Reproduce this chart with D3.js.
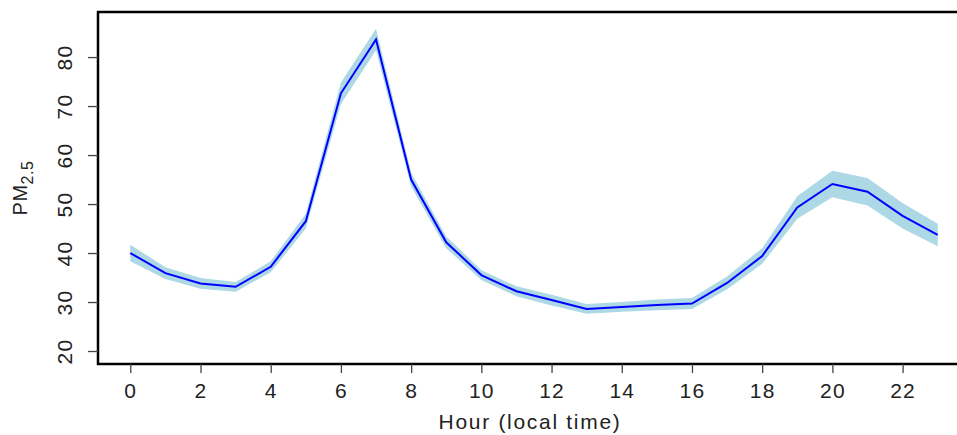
<!DOCTYPE html>
<html>
<head>
<meta charset="utf-8">
<script src="https://cdn.jsdelivr.net/npm/d3@7"></script>
<style>
  body { margin: 0; background: #fff; }
  text { font-family: 'Liberation Sans', Arial, sans-serif; fill: #222; }
</style>
</head>
<body>
<svg id="chart" width="957" height="435"></svg>
<script>
var hours = d3.range(0, 24),
    pm25 = [40.0, 35.9, 33.8, 33.1, 37.2, 46.5, 72.6, 83.6, 55.0, 42.2, 35.5, 32.2,
            30.4, 28.6, 29.0, 29.4, 29.7, 33.9, 39.4, 49.3, 54.1, 52.5, 47.6, 43.7],
    lower = [38.3, 34.7, 32.7, 32.1, 36.1, 45.0, 70.4, 81.4, 53.6, 41.0, 34.5, 31.2,
             29.3, 27.6, 28.0, 28.3, 28.6, 32.6, 37.8, 47.0, 51.4, 49.7, 45.0, 41.4],
    upper = [41.7, 37.1, 34.9, 34.1, 38.3, 48.0, 74.8, 85.8, 56.4, 43.4, 36.5, 33.2,
             31.5, 29.6, 30.0, 30.5, 30.8, 35.2, 41.0, 51.6, 56.8, 55.3, 50.2, 46.0],
    xTicks = [0, 2, 4, 6, 8, 10, 12, 14, 16, 18, 20, 22],
    yTicks = [20, 30, 40, 50, 60, 70, 80];

var svg = d3.select('#chart'),
    plotL = 98, plotR = 970, plotT = 12, plotB = 364;

// R style: axis range padded 4% on each side
var x = d3.scaleLinear().domain([-0.92, 23.92]).range([plotL, plotR]);
var y = d3.scaleLinear().domain([17.35, 89.2]).range([plotB, plotT]);

var data = hours.map(function(h, i) {
  return { h: h, v: pm25[i], lo: lower[i], hi: upper[i] };
});

// confidence band
svg.append('path')
   .datum(data)
   .attr('fill', '#add8e6')
   .attr('d', d3.area()
     .x(function(d) { return x(d.h); })
     .y0(function(d) { return y(d.lo); })
     .y1(function(d) { return y(d.hi); }));

// mean line
svg.append('path')
   .datum(data)
   .attr('fill', 'none')
   .attr('stroke', '#0000ff')
   .attr('stroke-width', 2)
   .attr('d', d3.line()
     .x(function(d) { return x(d.h); })
     .y(function(d) { return y(d.v); }));

// frame
svg.append('rect')
   .attr('x', plotL).attr('y', plotT)
   .attr('width', plotR - plotL).attr('height', plotB - plotT)
   .attr('fill', 'none')
   .attr('stroke', '#000')
   .attr('stroke-width', 2.5);

// x axis
var xAxis = svg.append('g')
   .attr('transform', 'translate(0,' + plotB + ')')
   .call(d3.axisBottom(x).tickValues(xTicks).tickSize(9).tickPadding(10).tickFormat(d3.format('d')));
xAxis.select('.domain').remove();
xAxis.selectAll('line').attr('stroke', '#444').attr('stroke-width', 1.3);
xAxis.selectAll('text')
     .attr('font-size', 21)
     .attr('letter-spacing', '1.2px')
     .attr('fill', '#222');

// y axis
var yAxis = svg.append('g')
   .attr('transform', 'translate(' + plotL + ',0)')
   .call(d3.axisLeft(y).tickValues(yTicks).tickSize(10).tickFormat(d3.format('d')));
yAxis.select('.domain').remove();
yAxis.selectAll('line').attr('stroke', '#444').attr('stroke-width', 1.3);
yAxis.selectAll('text')
     .attr('font-size', 21)
     .attr('letter-spacing', '1.2px')
     .attr('fill', '#222')
     .attr('x', null)
     .attr('text-anchor', 'middle')
     .attr('transform', 'translate(-33,0) rotate(-90)')
     .attr('dy', '0.35em');

// axis titles
svg.append('text')
   .attr('x', 530)
   .attr('y', 429)
   .attr('text-anchor', 'middle')
   .attr('font-size', 21)
   .attr('letter-spacing', '1.7px')
   .text('Hour (local time)');

var yLab = svg.append('text')
   .attr('transform', 'translate(27,' + ((plotT + plotB) / 2) + ') rotate(-90)')
   .attr('text-anchor', 'middle')
   .attr('font-size', 20)
   .attr('letter-spacing', '0.5px');
yLab.append('tspan').text('PM');
yLab.append('tspan').attr('font-size', 16).attr('dy', 6).text('2.5');
</script>
</body>
</html>
